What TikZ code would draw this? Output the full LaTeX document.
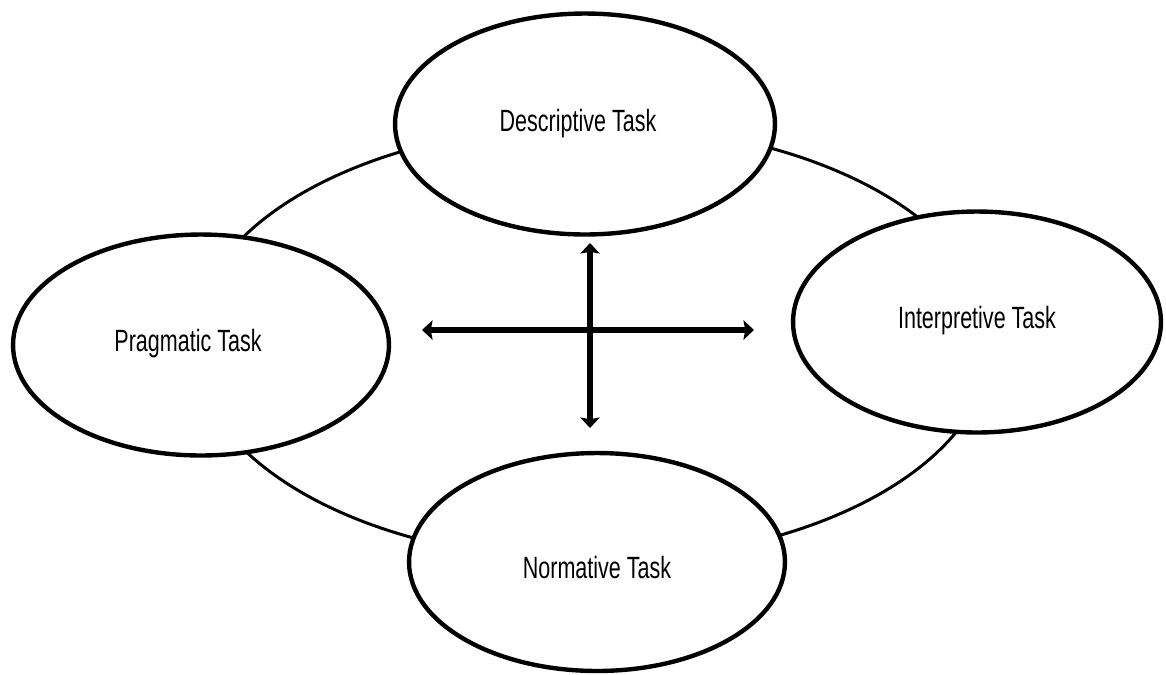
\documentclass[tikz,border=0pt]{standalone}
\usepackage{fontspec}
\newfontfamily\condfont[FakeStretch=0.7]{Liberation Sans}
\usetikzlibrary{shapes.geometric,arrows.meta}

\tikzset{%
  every task/.style={
    ellipse,
    draw,
    fill=white,
    line width=2.5pt,
    inner sep=0pt
  },
  task text/.style={
    font=\condfont\fontsize{17.5}{21}\selectfont,
    inner sep=0pt,
    text depth=0pt
  },
  task ring/.style={
    ellipse,
    draw,
    line width=1.7pt,
    inner sep=0pt,
    minimum width=15.96cm,
    minimum height=8.72cm
  },
  task arrow/.style={
    line width=3.2pt,
    {Stealth[length=6pt,width=11pt,inset=1pt]}-{Stealth[length=6pt,width=11pt,inset=1pt]}
  },
}

\begin{document}
\begin{tikzpicture}[x=0.02cm, y=-0.02cm]
    \useasboundingbox (0,0) rectangle (1166,674);

        \node [task ring] (ring) at (592,343) {};

        \node [every task, minimum width=7.6cm, minimum height=4.42cm,
               label={[task text, xshift=-0.14cm, yshift=0.08cm]center:Descriptive Task}] (descriptive) at (585,124) {};
        \node [every task, minimum width=7.36cm, minimum height=4.42cm,
               label={[task text, yshift=0.1cm]center:Interpretive Task}] (interpretive) at (977,322) {};
        \node [every task, minimum width=7.52cm, minimum height=4.42cm,
               label={[task text, xshift=-0.26cm, yshift=0.1cm]center:Pragmatic Task}] (pragmatic) at (201,345) {};
        \node [every task, minimum width=7.52cm, minimum height=4.36cm,
               label={[task text, yshift=-0.1cm]center:Normative Task}] (normative) at (597,562) {};

        \coordinate (west-end) at (422,330);
        \coordinate (east-end) at (754,330);
        \coordinate (north-end) at (590,243);
        \coordinate (south-end) at (590,428);

        \draw [task arrow] (west-end) -- (east-end);
        \draw [task arrow] (north-end) -- (south-end);
    \end{tikzpicture}
\end{document}
